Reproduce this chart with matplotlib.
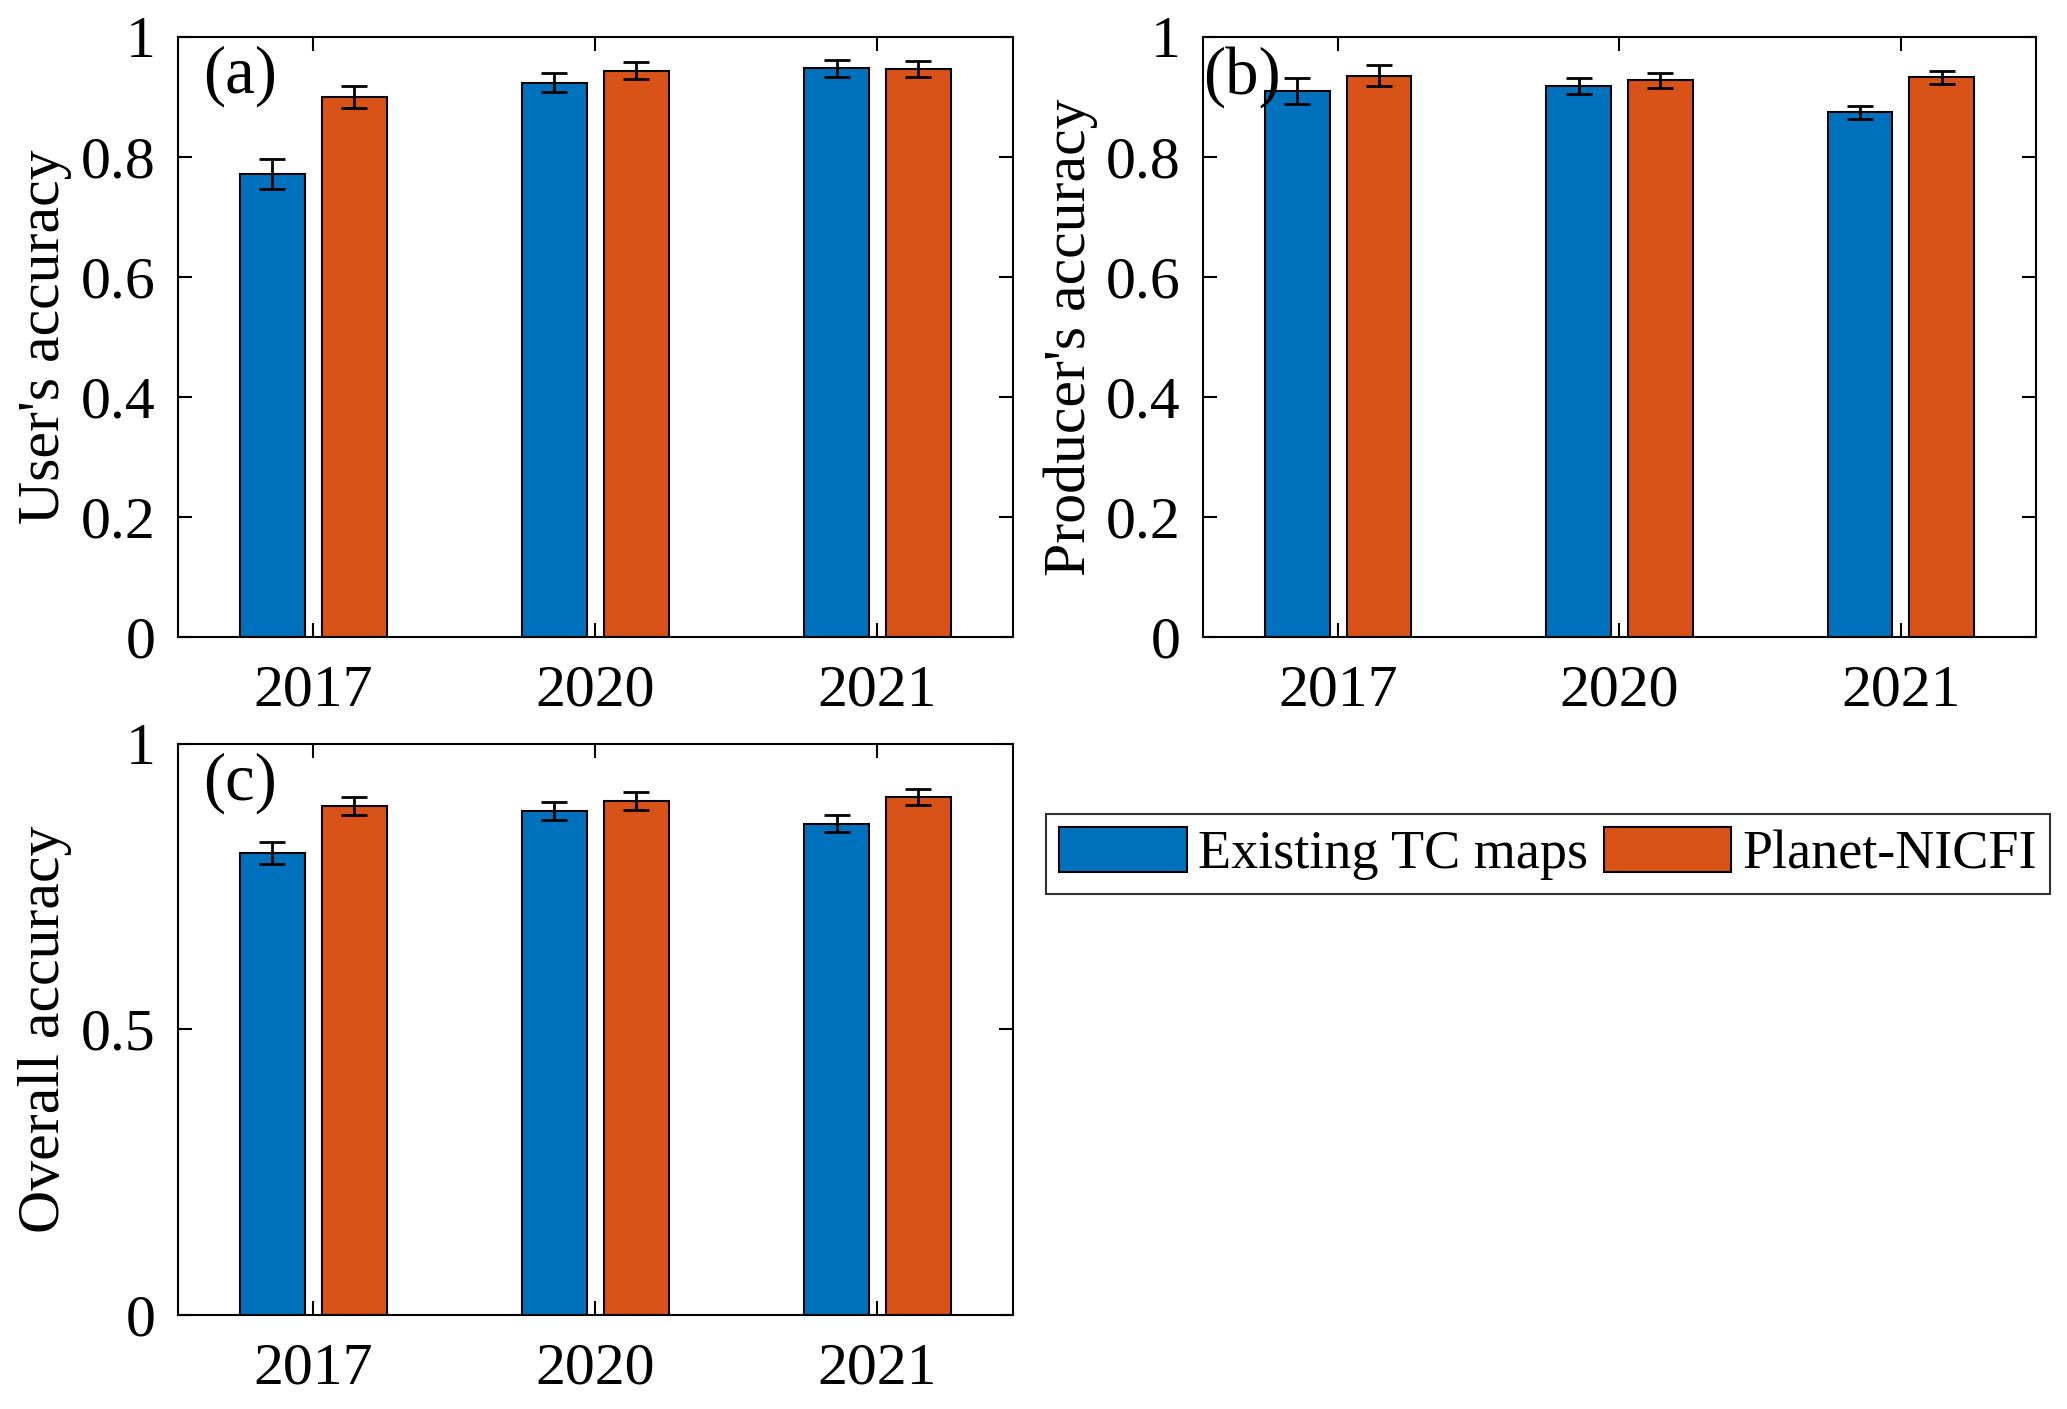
import matplotlib.pyplot as plt
import numpy as np
from matplotlib.patches import Patch

plt.rcParams['font.family'] = ['Liberation Serif', 'DejaVu Serif']

years = ["2017", "2020", "2021"]
series = ["Existing TC maps", "Planet-NICFI"]
colors = ["#0072BD", "#D95319"]

# user's accuracy (a)
ua_existing = [0.771, 0.923, 0.947]
ua_planet = [0.899, 0.943, 0.946]
ua_existing_err = [0.025, 0.016, 0.014]
ua_planet_err = [0.018, 0.014, 0.013]

# producer's accuracy (b)
pa_existing = [0.909, 0.918, 0.874]
pa_planet = [0.935, 0.927, 0.932]
pa_existing_err = [0.022, 0.013, 0.011]
pa_planet_err = [0.017, 0.012, 0.011]

# overall accuracy (c)
oa_existing = [0.809, 0.883, 0.860]
oa_planet = [0.891, 0.900, 0.907]
oa_existing_err = [0.020, 0.016, 0.015]
oa_planet_err = [0.016, 0.015, 0.014]

FS = 43
LEG_FS = 39

def panel(ax, vals, errs, ylabel, tag, yticks):
    x = np.arange(1, len(years) + 1)
    w = 0.23
    off = [-0.145, 0.145]
    for i in range(2):
        ax.bar(x + off[i], vals[i], w, color=colors[i], edgecolor="black",
               linewidth=1.5, zorder=2)
        ax.errorbar(x + off[i], vals[i], yerr=errs[i], fmt="none",
                    ecolor="black", elinewidth=2, capsize=9.5, capthick=2,
                    zorder=3)
    ax.set_xlim(0.52, 3.48)
    ax.set_ylim(0, 1)
    ax.set_xticks(x)
    ax.set_xticklabels(years)
    ax.set_yticks(yticks)
    ax.set_yticklabels(["%g" % t for t in yticks])
    ax.tick_params(direction="in", top=True, right=True, length=10,
                   width=1.5, labelsize=FS)
    ax.tick_params(axis="x", pad=20)
    ax.tick_params(axis="y", pad=16)
    ax.set_ylabel(ylabel, fontsize=FS, labelpad=6)
    for s in ax.spines.values():
        s.set_linewidth(1.5)
    ax.text(0.03, 0.985, tag, transform=ax.transAxes, fontsize=48,
            va="top", ha="left")

fig = plt.figure(figsize=(20.67, 14.09), dpi=100)
ax_a = fig.add_axes([0.086, 0.548, 0.404, 0.426])
ax_b = fig.add_axes([0.582, 0.548, 0.403, 0.426])
ax_c = fig.add_axes([0.086, 0.067, 0.404, 0.405])

panel(ax_a, [ua_existing, ua_planet], [ua_existing_err, ua_planet_err],
      "User's accuracy", "(a)", [0, 0.2, 0.4, 0.6, 0.8, 1])
panel(ax_b, [pa_existing, pa_planet], [pa_existing_err, pa_planet_err],
      "Producer's accuracy", "(b)", [0, 0.2, 0.4, 0.6, 0.8, 1])
ax_b.texts[0].set_x(0.0)
panel(ax_c, [oa_existing, oa_planet], [oa_existing_err, oa_planet_err],
      "Overall accuracy", "(c)", [0, 0.5, 1])

handles = [Patch(facecolor=colors[i], edgecolor="black", linewidth=1.5)
           for i in range(2)]
leg = fig.legend(handles, series, loc="upper left",
                 bbox_to_anchor=(0.506, 0.4225), ncol=2, fontsize=LEG_FS,
                 frameon=True, fancybox=False, edgecolor="black",
                 handlelength=2.35, handleheight=0.9, handletextpad=0.2,
                 columnspacing=0.3, borderpad=0.25, borderaxespad=0)
leg.get_frame().set_linewidth(1.5)

fig.savefig("out.png", dpi=100)
